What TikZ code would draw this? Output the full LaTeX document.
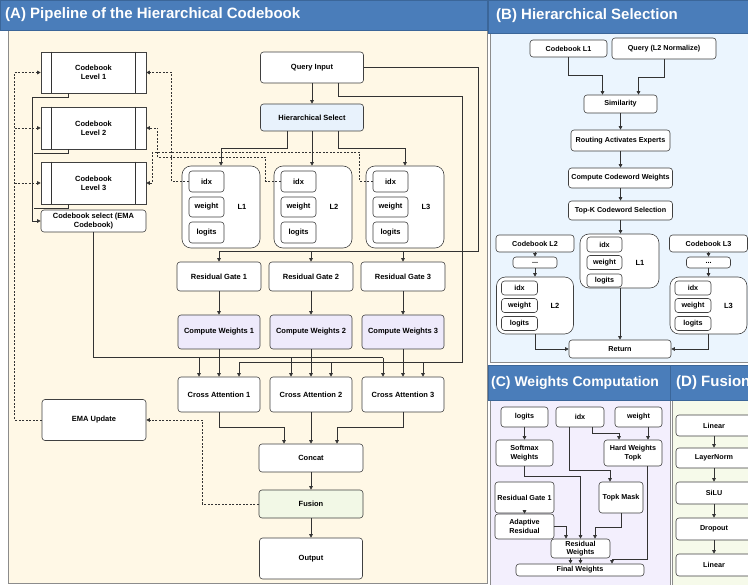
\documentclass[tikz,border=0pt]{standalone}
\usepackage{fontspec}
\setmainfont{Liberation Sans}
\usetikzlibrary{arrows.meta,calc}

\definecolor{hdrblue}{HTML}{4A7DBA}
\definecolor{hdrline}{HTML}{3B6699}
\definecolor{bodyA}{HTML}{FFF8E6}
\definecolor{bodyB}{HTML}{EBF5FE}
\definecolor{bodyC}{HTML}{F3EFFD}
\definecolor{bodyD}{HTML}{F6FAEA}
\definecolor{hsfill}{HTML}{E8F2FC}
\definecolor{cwfill}{HTML}{EEEAFB}
\definecolor{fusfill}{HTML}{F2F8E6}

\tikzset{
  box/.style={draw=black!75, fill=white, rounded corners=3pt, line width=0.6pt, align=center,
    inner sep=1pt, font=\bfseries\fontsize{7.5}{8.7}\selectfont},
  sbox/.style={box, font=\bfseries\fontsize{7.2}{8.4}\selectfont},
  proc/.style={box, rounded corners=0pt},
  grp/.style={draw=black!75, fill=white, rounded corners=9pt, line width=0.6pt},
  lbl/.style={font=\bfseries\fontsize{7.5}{8.7}\selectfont},
  hdr/.style={fill=hdrblue, draw=hdrline, line width=0.6pt},
  ttl/.style={anchor=west, text=white, inner sep=0pt, font=\bfseries\fontsize{15}{17}\selectfont},
  ln/.style={draw=black!80, line width=0.6pt},
  arr/.style={ln, -{Triangle[length=3.5pt,width=3.5pt]}},
  dsh/.style={ln, dash pattern=on 2pt off 1.5pt},
  darr/.style={arr, dash pattern=on 2pt off 1.5pt}
}

\begin{document}
\begin{tikzpicture}[x=1pt,y=-1pt]
\useasboundingbox (0,0) rectangle (748,585);
\clip (0,0) rectangle (748,585);

% panel frames
\filldraw[fill=bodyA, draw=black!45] (8,30) rectangle (487,583);
\filldraw[fill=bodyB, draw=black!45] (490,33) rectangle (749,362);
\filldraw[fill=bodyC, draw=black!45] (490,400) rectangle (670,586);
\filldraw[fill=bodyD, draw=black!45] (672,400) rectangle (749,586);
\path[hdr] (0,0) rectangle (487,30);
\path[hdr] (488,0) rectangle (749,33);
\path[hdr] (488,365) rectangle (670,400);
\path[hdr] (670,365) rectangle (749,400);
\node[ttl] (tA) at (5,15) {(A) Pipeline of the Hierarchical Codebook};
\node[ttl] (tB) at (496,16) {(B) Hierarchical Selection};
\node[ttl, font=\bfseries\fontsize{14}{16}\selectfont] (tC) at (491,383) {(C) Weights Computation};
\node[ttl] (tD) at (676,383) {(D) Fusion};

% ---- (A) pipeline
\node[proc, minimum width=105, minimum height=41] (cb1) at (93.5,72.5) {Codebook\\Level 1};
\node[proc, minimum width=105, minimum height=42] (cb2) at (93.5,128) {Codebook\\Level 2};
\node[proc, minimum width=105, minimum height=42] (cb3) at (93.5,183) {Codebook\\Level 3};
\foreach \n in {cb1,cb2,cb3} {
  \draw[ln] ([xshift=11pt]\n.north west) -- ([xshift=11pt]\n.south west);
  \draw[ln] ([xshift=-11pt]\n.north east) -- ([xshift=-11pt]\n.south east);
}
\node[box, minimum width=105, minimum height=22] (cbs) at (93.5,221) {Codebook select (EMA\\Codebook)};
\node[box, minimum width=104, minimum height=41] (ema) at (94,420) {EMA Update};

\node[box, minimum width=103, minimum height=31] (qin) at (312,67.5) {Query Input};
\node[box, fill=hsfill, minimum width=103, minimum height=27] (hs) at (312,117.5) {Hierarchical Select};

\foreach \i/\x in {1/219,2/311,3/403} {
  \node[grp, minimum width=78, minimum height=82] (g\i) at (\x+2,207) {};
  \node[box, minimum width=35, minimum height=21] (i\i) at (\x-12.5,181.5) {idx};
  \node[box, minimum width=35, minimum height=20] (w\i) at (\x-12.5,207) {weight};
  \node[box, minimum width=35, minimum height=21] (l\i) at (\x-12.5,232.5) {logits};
  \node[lbl] (n\i) at (\x+23,207) {L\i};
  \node[box, minimum width=84, minimum height=29] (rg\i) at (\x,276.5) {Residual Gate \i};
  \node[box, fill=cwfill, minimum width=82, minimum height=34] (cw\i) at (\x,332) {Compute Weights \i};
  \node[box, minimum width=82, minimum height=35] (ca\i) at (\x,394.5) {Cross Attention \i};
  \draw[arr] (rg\i) -- (cw\i);
  \draw[arr] (cw\i) -- (ca\i);
}

\node[box, minimum width=104, minimum height=28] (concat) at (311,458) {Concat};
\node[box, fill=fusfill, minimum width=104, minimum height=28] (fus) at (311,504) {Fusion};
\node[box, minimum width=103, minimum height=41] (out) at (311,558.5) {Output};

\draw[arr] (qin) -- (hs);
\draw[arr] ([xshift=-25pt]hs.south) -- ++(0,17) -| (g1.north);
\draw[arr] (hs.south) -- (hs.south |- g2.north);
\draw[arr] ([xshift=26pt]hs.south) -- ++(0,17) -| (g3.north);

% query feeds gates and attention
\draw[ln] (qin.east) -| ($(rg3.north)+(75,-10)$) -- ($(rg1.north)+(0,-10)$);
\foreach \n in {rg1,rg2,rg3}
  \draw[arr] ($(\n.north)+(0,-10)$) -- (\n.north);
\draw[ln] ([xshift=26pt]qin.south) -- ++(0,13) -| ($(ca3.north)+(59,-14)$) -- ($(ca1.north)+(20,-14)$);
\draw[ln] (cbs.south) |- ($(ca3.north)+(-20,-19)$);
\foreach \n in {ca1,ca2,ca3} {
  \draw[arr] ($(\n.north)+(20,-14)$) -- ([xshift=20pt]\n.north);
  \draw[arr] ($(\n.north)+(-20,-19)$) -- ([xshift=-20pt]\n.north);
}

% codebook levels into select
\draw[arr] ([xshift=-25pt]cb1.south) -- ++(0,4) -| ($(cbs.west)+(-8,0)$) -- (cbs.west);
\draw[ln] ([xshift=-25pt]cb2.south) -- ++(0,4) -- ++(-35,0);
\draw[ln] ([xshift=-25pt]cb3.south) -- ++(0,4) -- ++(-35,0);

% idx back to codebooks
\draw[darr] (i1.west) -| ($(cb1.east)+(25,0)$) -- (cb1.east);
\draw[darr] (i2.west) -- ++(-15,0) -- ++(0,-24) -- ++(-108,0) |- (cb2.east);
\draw[darr] (i3.west) -- ++(-13,0) -- ++(0,-29) -| ($(cb3.east)+(6,0)$) -- (cb3.east);

\draw[arr] (ca1.south) -- ++(0,15) -| ([xshift=-27pt]concat.north);
\draw[arr] (ca2.south) -- (concat.north);
\draw[arr] (ca3.south) -- ++(0,15) -| ([xshift=26pt]concat.north);
\draw[arr] (concat) -- (fus);
\draw[arr] (fus) -- (out);

% EMA update loop
\draw[darr] (fus.west) -| ($(ema.east)+(56,0)$) -- (ema.east);
\draw[dsh] (ema.west) -| ($(cb1.west)+(-26,0)$);
\foreach \n in {cb1,cb2,cb3}
  \draw[darr] ($(\n.west)+(-26,0)$) -- (\n.west);

% ---- (B) hierarchical selection
\node[sbox, minimum width=77, minimum height=17] (bcb1) at (568.5,48.5) {Codebook L1};
\node[sbox, minimum width=104, minimum height=21] (bq) at (664,48.5) {Query (L2 Normalize)};
\node[sbox, minimum width=73, minimum height=18] (bsim) at (620.5,104) {Similarity};
\node[sbox, minimum width=99, minimum height=21] (brout) at (620.5,140.5) {Routing Activates Experts};
\node[sbox, minimum width=104, minimum height=20] (bccw) at (620.5,178) {Compute Codeword Weights};
\node[sbox, minimum width=104, minimum height=19] (btop) at (620.5,210.5) {Top-K Codeword Selection};

\node[grp, minimum width=79, minimum height=54] (bg1) at (619.5,261) {};
\node[sbox, minimum width=35, minimum height=15] (bi1) at (604.5,244.5) {idx};
\node[sbox, minimum width=35, minimum height=14] (bw1) at (604.5,262.5) {weight};
\node[sbox, minimum width=35, minimum height=13] (bl1) at (604.5,280.5) {logits};
\node[lbl] (bn1) at (640,263) {L1};

\foreach \i/\x in {2/535,3/708.5} {
  \node[sbox, minimum width=78, minimum height=17] (bcb\i) at (\x,243.5) {Codebook L\i};
  \node[sbox, minimum width=44, minimum height=11] (bd\i) at (\x,262.5) {...};
  \node[grp, minimum width=77, minimum height=57] (bg\i) at (\x,305.5) {};
  \node[sbox, minimum width=36, minimum height=14] (bi\i) at (\x-15.5,288) {idx};
  \node[sbox, minimum width=36, minimum height=14] (bw\i) at (\x-15.5,305.5) {weight};
  \node[sbox, minimum width=36, minimum height=14] (bl\i) at (\x-15.5,323.5) {logits};
  \node[lbl] (bn\i) at (\x+20,306) {L\i};
  \draw[arr] (bcb\i) -- (bd\i);
  \draw[arr] (bd\i) -- (bg\i);
}
\node[sbox, minimum width=102, minimum height=18] (bret) at (620,349) {Return};

\draw[arr] (bcb1.south) -- ++(0,18) -| ([xshift=-18pt]bsim.north);
\draw[arr] (bq.south) -- ++(0,18) -| ([xshift=18pt]bsim.north);
\draw[arr] (bsim) -- (brout);
\draw[arr] (brout) -- (bccw);
\draw[arr] (bccw) -- (btop);
\draw[arr] (btop.south) -- (btop.south |- bg1.north);
\draw[arr] (bg1.south -| bret.north) -- (bret.north);
\draw[arr] (bg2.south) |- (bret.west);
\draw[arr] (bg3.south) |- (bret.east);

% ---- (C) weights computation
\node[sbox, minimum width=47, minimum height=20] (clog) at (524.5,417) {logits};
\node[sbox, minimum width=48, minimum height=20] (cidx) at (580,417) {idx};
\node[sbox, minimum width=47, minimum height=20] (cwt) at (638.5,417) {weight};
\node[sbox, minimum width=57, minimum height=26] (csm) at (524.5,453) {Softmax\\Weights};
\node[sbox, minimum width=58, minimum height=26] (chw) at (633,453) {Hard Weights\\Topk};
\node[sbox, minimum width=59, minimum height=31] (crg) at (524.5,497.5) {Residual Gate 1};
\node[sbox, minimum width=44, minimum height=31] (ctm) at (621,497.5) {Topk Mask};
\node[sbox, minimum width=59, minimum height=25] (car) at (524.5,526.5) {Adaptive\\Residual};
\node[sbox, minimum width=59, minimum height=19] (crw) at (580.5,548.5) {Residual\\Weights};
\node[sbox, minimum width=128, minimum height=12] (cfw) at (580,570) {Final Weights};

\draw[arr] (clog) -- (csm);
\draw[arr] ([xshift=9.5pt]cwt.south) -- ([xshift=9.5pt]cwt.south |- chw.north);
\draw[arr] ([xshift=12pt]cidx.south) -- ++(0,6) -| ([xshift=-14pt]chw.north);
\draw[arr] ([xshift=-11pt]cidx.south) -- ++(0,43) -| ([xshift=-11pt]ctm.north);
\draw[arr] (csm.south) -- ++(0,10) -| (crw.north);
\draw[arr] (crg) -- (car);
\draw[arr] (car.east) -| ([xshift=-14.5pt]crw.north);
\draw[arr] (ctm.south) -- ++(0,14) -| ([xshift=14.5pt]crw.north);
\draw[arr] ([xshift=14pt]chw.south) -- ++(0,93) -| ([xshift=32pt]cfw.north);
\draw[arr] ([xshift=-10pt]crw.south) -- ([xshift=-10pt]crw.south |- cfw.north);
\draw[arr] (crw.south) -- (crw.south |- cfw.north);

% ---- (D) fusion
\node[sbox, minimum width=76, minimum height=21] (dl1) at (714,425.5) {Linear};
\node[sbox, minimum width=76, minimum height=20] (dln) at (714,458) {LayerNorm};
\node[sbox, minimum width=76, minimum height=22] (dsi) at (714,493) {SiLU};
\node[sbox, minimum width=76, minimum height=22] (ddr) at (714,529) {Dropout};
\node[sbox, minimum width=76, minimum height=22] (dl2) at (714,565) {Linear};
\draw[arr] (dl1) -- (dln);
\draw[arr] (dln) -- (dsi);
\draw[arr] (dsi) -- (ddr);
\draw[arr] (ddr) -- (dl2);
\end{tikzpicture}
\end{document}
